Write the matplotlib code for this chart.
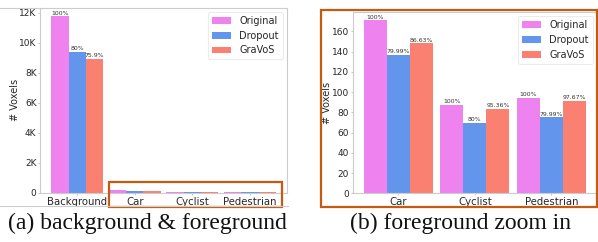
import matplotlib
matplotlib.use("Agg")
import matplotlib.pyplot as plt
import numpy as np
from matplotlib.lines import Line2D
from matplotlib.patches import Rectangle
from matplotlib.ticker import FuncFormatter

# ---- data ----
categories = ['Background', 'Car', 'Cyclist', 'Pedestrian']
series_names = ['Original', 'Dropout', 'GraVoS']
original = [11750, 170.8, 87.2, 93.8]
dropout = [9400, 136.6, 69.8, 75.0]
gravos = [8918, 148.0, 83.2, 91.6]
pct_original = ['100%', '100%', '100%', '100%']
pct_dropout = ['80%', '79.99%', '80%', '79.99%']
pct_gravos = ['75.9%', '86.63%', '95.36%', '97.67%']
captions = ['(a) background & foreground', '(b) foreground zoom in']

colors = ['#EE82EE', '#6495ED', '#FA8072']
W, H = 598, 242
TXT = '#262626'
SPINE = '#cccccc'
ORANGE = '#c55a11'

fig = plt.figure(figsize=(W / 100, H / 100), dpi=100)


def px_axes(l, t, r, b):
    return fig.add_axes([l / W, 1 - b / H, (r - l) / W, (b - t) / H])


def draw(ax, idx, show_pct, label_x):
    x = np.arange(len(idx))
    width = 0.3
    vals = [original, dropout, gravos]
    pcts = [pct_original, pct_dropout, pct_gravos]
    for k in range(3):
        v = [vals[k][i] for i in idx]
        bars = ax.bar(x + (k - 1) * width, v, width, color=colors[k],
                      label=series_names[k], linewidth=0)
        for j, (b, i) in enumerate(zip(bars, idx)):
            if show_pct[j]:
                ax.annotate(pcts[k][i], (b.get_x() + b.get_width() / 2, b.get_height()),
                            xytext=(0, 0.6), textcoords='offset points',
                            ha='center', va='bottom', fontsize=4.4, color='#333333')
    ax.set_xticks(x)
    ax.set_xticklabels([categories[i] for i in idx])
    for s in ax.spines.values():
        s.set_color(SPINE)
        s.set_linewidth(0.8)
    ax.tick_params(axis='both', length=1.5, width=0.6, color='#bbbbbb', pad=1,
                   labelcolor=TXT)
    ax.tick_params(axis='x', labelsize=7.3, pad=1.5)
    ax.tick_params(axis='y', labelsize=6.5)
    ax.set_ylabel('# Voxels', fontsize=7, color=TXT)
    ax.yaxis.set_label_coords(label_x, 0.5)
    ax.yaxis.label.set_verticalalignment('center')
    leg = ax.legend(loc='upper right', fontsize=7, frameon=True, fancybox=True,
                    borderaxespad=0.45)
    leg.get_frame().set_edgecolor('#e8e8e8')
    leg.get_frame().set_linewidth(0.8)
    for t in leg.get_texts():
        t.set_color(TXT)


ax1 = px_axes(40, 7.5, 287, 193)
draw(ax1, [0, 1, 2, 3], [True, False, False, False], (15.2 - 40) / 247)
ax1.yaxis.set_major_formatter(FuncFormatter(lambda v, p: '0' if v == 0 else f'{int(round(v / 1000))}K'))
ax1.set_yticks([0, 2000, 4000, 6000, 8000, 10000, 12000])

ax2 = px_axes(352.7, 11.7, 597, 193.3)
draw(ax2, [1, 2, 3], [True, True, True], (326.5 - 352.7) / 244.3)
ax2.set_yticks([0, 20, 40, 60, 80, 100, 120, 140, 160])

# extra frame lines from the original layout
fig.add_artist(Line2D([0, 40 / W], [1 - 7.5 / H, 1 - 7.5 / H], color=SPINE, lw=0.8))
fig.add_artist(Line2D([0, 288 / W], [1 - 206 / H, 1 - 206 / H], color=SPINE, lw=0.8))

# orange highlight boxes
for (l, t, r, b) in [(109, 181.5, 282, 207), (321, 9.7, 597, 207)]:
    fig.add_artist(Rectangle((l / W, 1 - b / H), (r - l) / W, (b - t) / H,
                             transform=fig.transFigure, fill=False,
                             edgecolor=ORANGE, linewidth=1.6))

# captions
fig.text(147.5 / W, 1 - 229 / H, captions[0], ha='center', va='baseline',
         fontsize=17, family='Liberation Serif', color='#111111')
fig.text(460 / W, 1 - 229 / H, captions[1], ha='center', va='baseline',
         fontsize=17, family='Liberation Serif', color='#111111')

fig.savefig('out.png', dpi=100)
